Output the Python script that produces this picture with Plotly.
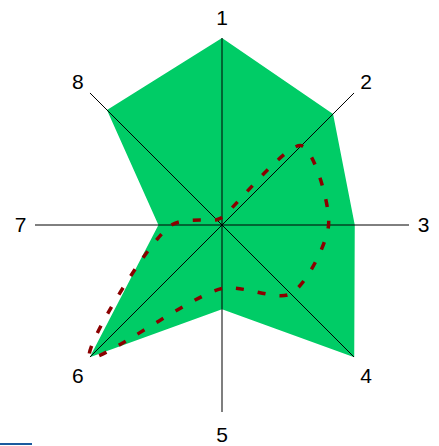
import plotly.graph_objects as go

categories = ["1", "2", "3", "4", "5", "6", "7", "8"]
area_values = [1.0, 0.84, 0.71, 1.0, 0.45, 1.0, 0.34, 0.87]
dashed_values = [0.04, 0.60, 0.57, 0.52, 0.34, 1.0, 0.27, 0.04]
axis_max = 1.0

fig = go.Figure()

# filled area
fig.add_trace(go.Scatterpolar(
    r=area_values, theta=categories, fill="toself", mode="lines",
    fillcolor="#00CC66", line=dict(width=0, color="#00CC66"),
    hoverinfo="skip", showlegend=False))

# spokes
for i, c in enumerate(categories):
    vertical = c in ("1", "5")
    fig.add_trace(go.Scatterpolar(
        r=[0, axis_max], theta=[c, c], mode="lines",
        line=dict(color="rgba(0,0,0,0.5)" if vertical else "black",
                  width=2 if vertical else 1),
        hoverinfo="skip", showlegend=False))

# dashed curve, starting at the pointed vertex (6)
start = categories.index("6")
order = list(range(start, len(categories))) + list(range(0, start)) + [start]
fig.add_trace(go.Scatterpolar(
    r=[dashed_values[k] for k in order],
    theta=[categories[k] for k in order],
    mode="lines",
    line=dict(color="#8B0000", width=3.5, dash="8px,14px", shape="spline", smoothing=0.8),
    hoverinfo="skip", showlegend=False))

cx, cy, R = 222, 225, 187
W, H = 439, 446
fig.update_layout(
    width=W, height=H,
    margin=dict(l=0, r=0, t=0, b=0),
    paper_bgcolor="white", plot_bgcolor="white",
    font=dict(family="Liberation Sans, Arial, sans-serif", size=21, color="black"),
    polar=dict(
        domain=dict(x=[(cx - R) / W, (cx + R) / W], y=[1 - (cy + R) / H, 1 - (cy - R) / H]),
        bgcolor="rgba(0,0,0,0)",
        radialaxis=dict(visible=False, range=[0, axis_max]),
        angularaxis=dict(
            categoryorder="array", categoryarray=categories,
            rotation=90, direction="clockwise",
            showline=False, showgrid=False,
            ticks="outside", ticklen=4, tickcolor="rgba(0,0,0,0)",
            tickfont=dict(size=21, color="black"),
        ),
    ),
    shapes=[dict(type="line", xref="paper", yref="paper",
                 x0=0, x1=32 / W, y0=1 - 444 / H, y1=1 - 444 / H,
                 line=dict(color="#1a5a9e", width=2))],
)

fig.write_html("out.html", config={"displayModeBar": False},
               post_script="document.body.style.margin='0';document.body.style.overflow='hidden';")
